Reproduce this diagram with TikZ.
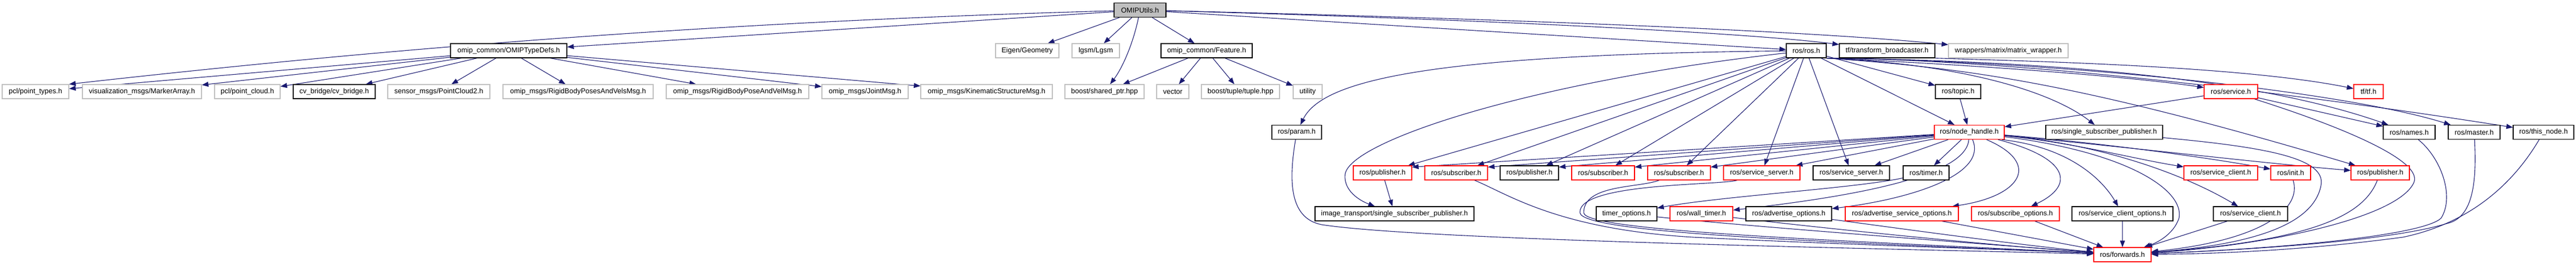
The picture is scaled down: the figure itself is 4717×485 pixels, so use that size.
\documentclass[tikz,border=0pt]{standalone}
\usepackage{fontspec}
\setmainfont{Liberation Sans}
\usetikzlibrary{arrows.meta}
\definecolor{edgec}{HTML}{191970}
\definecolor{grayb}{HTML}{BFBFBF}
\definecolor{redb}{HTML}{FF0000}
\pgfdeclarelayer{bg}
\pgfsetlayers{bg,main}
\newcommand\nd[6]{\node[#5, minimum width={#3-#2}] (#1) at ({(#2+#3)/2},#4) {#6};}
\tikzset{
  box/.style={rectangle, inner sep=0pt, minimum height=26pt, fill=white, line width=1.2pt,
    font=\fontsize{13pt}{15pt}\selectfont},
  gbox/.style={box, draw=grayb},
  bbox/.style={box, draw=black},
  rbox/.style={box, draw=redb},
  e/.style={draw=edgec, line width=1.1pt, -{Triangle[length=12pt,width=9pt]}},
}
\begin{document}
\begin{tikzpicture}[x=1pt,y=-1pt]
\useasboundingbox (0,0) rectangle (4717,485);
% row 0
\nd{u}{2040}{2135}{18.5}{bbox,fill=grayb}{OMIPUtils.h}
% row 1
\nd{typedefs}{825}{1038}{93}{bbox}{omip\_common/OMIPTypeDefs.h}
\nd{geom}{1823}{1939}{93}{gbox}{Eigen/Geometry}
\nd{lgsm}{1963}{2050}{93}{gbox}{lgsm/Lgsm}
\nd{feat}{2126}{2293}{93}{bbox}{omip\_common/Feature.h}
\nd{rosh}{3271}{3344}{93}{bbox}{ros/ros.h}
\nd{tfbr}{3368}{3543}{93}{bbox}{tf/transform\_broadcaster.h}
\nd{matw}{3568}{3787}{93}{gbox}{wrappers/matrix/matrix\_wrapper.h}
% row 2
\nd{pt}{4}{126}{168}{gbox}{pcl/point\_types.h}
\nd{ma}{151}{369}{168}{gbox}{visualization\_msgs/MarkerArray.h}
\nd{pc}{393}{513}{168}{gbox}{pcl/point\_cloud.h}
\nd{cvb}{537}{687}{168}{bbox}{cv\_bridge/cv\_bridge.h}
\nd{pc2}{710}{897}{168}{gbox}{sensor\_msgs/PointCloud2.h}
\nd{pvs}{921}{1196}{168}{gbox}{omip\_msgs/RigidBodyPosesAndVelsMsg.h}
\nd{pv}{1220}{1481}{168}{gbox}{omip\_msgs/RigidBodyPoseAndVelMsg.h}
\nd{jm}{1505}{1663}{168}{gbox}{omip\_msgs/JointMsg.h}
\nd{ks}{1686}{1927}{168}{gbox}{omip\_msgs/KinematicStructureMsg.h}
\nd{sp}{1950}{2095}{168}{gbox}{boost/shared\_ptr.hpp}
\nd{vec}{2118}{2177}{168}{gbox}{vector}
\nd{tup}{2200}{2343}{168}{gbox}{boost/tuple/tuple.hpp}
\nd{utl}{2368}{2421}{168}{gbox}{utility}
\nd{topic}{3544}{3627}{168}{bbox}{ros/topic.h}
\nd{srv}{4036}{4134}{168}{rbox}{ros/service.h}
\nd{tftf}{4310}{4364}{168}{rbox}{tf/tf.h}
% row 3
\nd{param}{2329}{2420}{242.5}{bbox}{ros/param.h}
\nd{nh}{3542}{3670}{242.5}{rbox}{ros/node\_handle.h}
\nd{ssp}{3746}{3960}{242.5}{bbox}{ros/single\_subscriber\_publisher.h}
\nd{names}{4364}{4459}{242.5}{bbox}{ros/names.h}
\nd{master}{4483}{4578}{242.5}{bbox}{ros/master.h}
\nd{thisn}{4602}{4713}{242.5}{bbox}{ros/this\_node.h}
% row 4
\nd{pub1}{2478}{2585}{317}{rbox}{ros/publisher.h}
\nd{sub1}{2609}{2724}{317}{rbox}{ros/subscriber.h}
\nd{pub2}{2747}{2854}{317}{bbox}{ros/publisher.h}
\nd{sub2}{2878}{2993}{317}{rbox}{ros/subscriber.h}
\nd{sub3}{3017}{3132}{317}{rbox}{ros/subscriber.h}
\nd{ss1}{3156}{3296}{317}{rbox}{ros/service\_server.h}
\nd{ss2}{3320}{3460}{317}{bbox}{ros/service\_server.h}
\nd{timer}{3485}{3569}{317}{bbox}{ros/timer.h}
\nd{sc1}{3999}{4134}{317}{rbox}{ros/service\_client.h}
\nd{init}{4158}{4231}{317}{rbox}{ros/init.h}
\nd{pub3}{4305}{4412}{317}{rbox}{ros/publisher.h}
% row 5
\nd{itssp}{2408}{2699}{392}{bbox}{image\_transport/single\_subscriber\_publisher.h}
\nd{topt}{2923}{3034}{392}{bbox}{timer\_options.h}
\nd{wt}{3058}{3173}{392}{rbox}{ros/wall\_timer.h}
\nd{ao}{3197}{3354}{392}{bbox}{ros/advertise\_options.h}
\nd{aso}{3379}{3586}{392}{rbox}{ros/advertise\_service\_options.h}
\nd{so}{3610}{3771}{392}{rbox}{ros/subscribe\_options.h}
\nd{sco}{3794}{3979}{392}{bbox}{ros/service\_client\_options.h}
\nd{sc2}{4053}{4189}{392}{bbox}{ros/service\_client.h}
% row 6
\nd{fw}{3834}{3939}{467}{rbox}{ros/forwards.h}

\begin{pgfonlayer}{bg}
% ---- edges from OMIPUtils.h
\draw[e] (u) -- (typedefs);
\draw[e] (u) .. controls (1300,40) and (700,90) .. (pt.north east);
\draw[e] (u) -- (geom);
\draw[e] (u) -- (lgsm);
\draw[e] (u) .. controls (2075,80) and (2055,125) .. (sp);
\draw[e] (u) -- (feat);
\draw[e] (u) -- (rosh);
\draw[e] (u) .. controls (2700,35) and (3200,60) .. (tfbr);
\draw[e] (u) .. controls (2700,33) and (3300,55) .. (matw);
% ---- OMIPTypeDefs.h
\draw[e] (typedefs) -- (pt);
\draw[e] (typedefs) -- (ma);
\draw[e] (typedefs) -- (pc);
\draw[e] (typedefs) -- (cvb);
\draw[e] (typedefs) -- (pc2);
\draw[e] (typedefs) -- (pvs);
\draw[e] (typedefs) -- (pv);
\draw[e] (typedefs) -- (jm);
\draw[e] (typedefs) -- (ks);
% ---- Feature.h
\draw[e] (feat) -- (sp);
\draw[e] (feat) -- (vec);
\draw[e] (feat) -- (tup);
\draw[e] (feat) -- (utl);
% ---- ros/ros.h
\draw[e] (rosh) .. controls (2600,100) and (2420,150) .. (param);
\draw[e] (rosh) .. controls (2800,150) and (2470,260) .. (2463,320) .. controls (2460,350) and (2490,368) .. (itssp);
\draw[e] (rosh) -- (pub1);
\draw[e] (rosh) -- (sub1);
\draw[e] (rosh) -- (pub2);
\draw[e] (rosh) -- (sub2);
\draw[e] (rosh) -- (sub3);
\draw[e] (rosh) -- (ss1);
\draw[e] (rosh) -- (ss2);
\draw[e] (rosh) -- (topic);
\draw[e] (rosh) -- (nh);
\draw[e] (rosh.south east) .. controls (3600,118) and (3760,170) .. (ssp);
\draw[e] (rosh.south east) .. controls (3600,118) and (3900,140) .. (srv);
\draw[e] (rosh.south east) .. controls (3600,125) and (3800,150) .. (pub3);
\draw[e] (rosh.south east) .. controls (3800,112) and (4150,150) .. (names);
\draw[e] (rosh.south east) .. controls (3800,113) and (4300,170) .. (master);
\draw[e] (rosh.south east) .. controls (3800,111) and (4420,205) .. (thisn);
% ---- others
\draw[e] (tfbr.south east) .. controls (3700,112) and (4100,120) .. (tftf);
\draw[e] (topic) -- (nh);
\draw[e] (srv) -- (nh);
\draw[e] (srv) -- (names);
\draw[e] (srv) .. controls (4250,220) and (4440,290) .. (4420,335) .. controls (4390,400) and (4150,450) .. (fw);
% ---- node_handle.h
\draw[e] (nh) -- ([yshift=-3pt]pub1.north east);
\draw[e] (nh) -- ([yshift=-3pt]sub1.north east);
\draw[e] (nh) -- ([yshift=-3pt]pub2.north east);
\draw[e] (nh) -- ([yshift=-3pt]sub2.north east);
\draw[e] (nh) -- ([yshift=-3pt]sub3.north east);
\draw[e] (nh) -- ([xshift=-8pt]ss1.north east);
\draw[e] (nh) -- ([xshift=-28pt]ss2.north east);
\draw[e] (nh) -- (timer);
\draw[e] (nh) .. controls (3600,330) and (3350,365) .. (wt);
\draw[e] (nh) .. controls (3640,320) and (3500,365) .. (ao);
\draw[e] (nh) .. controls (3740,300) and (3700,360) .. (aso);
\draw[e] (nh) .. controls (3790,290) and (3800,340) .. (so);
\draw[e] ([xshift=-5pt]nh.south east) .. controls (3790,270) and (3850,330) .. (sco);
\draw[e] (nh) .. controls (3800,262) and (3900,290) .. (sc1);
\draw[e] (nh) .. controls (3850,262) and (4050,290) .. (init);
\draw[e] (nh) .. controls (3900,270) and (4150,300) .. (pub3);
\draw[e] (nh) .. controls (3850,265) and (4000,320) .. (sc2);
\draw[e] (nh) .. controls (3900,280) and (4000,350) .. (3990,400) .. controls (3980,430) and (3950,445) .. (fw);
% ---- to forwards.h and others
\draw[e] (pub1) -- (itssp);
\draw[e] (timer) .. controls (3400,345) and (3150,360) .. (topt);
\draw[e] (param) .. controls (2360,330) and (2360,400) .. (2420,412) .. controls (2600,440) and (3400,455) .. (fw);
\draw[e] (sub1) .. controls (2760,355) and (2850,420) .. (3100,435) .. controls (3400,450) and (3700,458) .. (fw);
\draw[e] (ss1) .. controls (3150,340) and (2890,335) .. (2893,390) .. controls (2897,430) and (3400,445) .. (fw);
\draw[e] (sub3) .. controls (3000,345) and (2900,338) .. (2900,390) .. controls (2900,425) and (3400,442) .. (fw);
\draw[e] (topt) .. controls (3200,415) and (3600,445) .. (fw);
\draw[e] (wt) .. controls (3350,420) and (3650,450) .. (fw);
\draw[e] (ao) .. controls (3450,415) and (3700,450) .. (fw);
\draw[e] (aso) -- (fw);
\draw[e] (so) -- (fw);
\draw[e] (sco) -- (fw);
\draw[e] (sc2) -- (fw);
\draw[e] (ssp) .. controls (4150,270) and (4260,290) .. (4250,340) .. controls (4235,420) and (4100,450) .. (fw);
\draw[e] (init) .. controls (4215,380) and (4150,440) .. (fw);
\draw[e] (pub3) .. controls (4330,390) and (4250,440) .. (fw);
\draw[e] (names) .. controls (4470,290) and (4495,360) .. (4470,400) .. controls (4440,430) and (4200,455) .. (fw);
\draw[e] (master) .. controls (4535,330) and (4530,400) .. (4480,410) .. controls (4400,435) and (4200,455) .. (fw);
\draw[e] (thisn) .. controls (4600,340) and (4520,410) .. (4400,435) .. controls (4250,455) and (4100,465) .. (fw);
\end{pgfonlayer}
\end{tikzpicture}
\end{document}
